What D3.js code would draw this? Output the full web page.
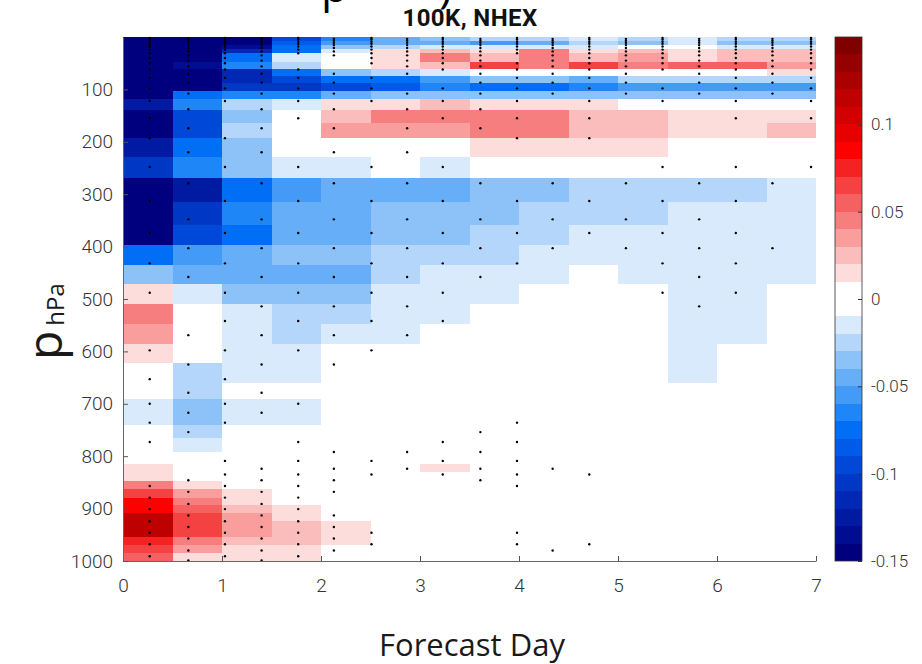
<!DOCTYPE html>
<html>
<head>
<meta charset="utf-8">
<script src="https://cdn.jsdelivr.net/npm/d3@7"></script>
<style>
  body { margin: 0; background: #fff; }
  svg { display: block; }
</style>
</head>
<body>
<svg id="chart" width="922" height="664"></svg>
<script>
// Forecast-day bin edges (14 half-day columns)
const dayEdges = [0, 0.5, 1, 1.5, 2, 2.5, 3, 3.5, 4, 4.5, 5, 5.5, 6, 6.5, 7];

// Pressure bin edges in hPa (43 layers, top to bottom)
const pressureEdges = [0, 7, 15, 22, 31, 47, 62, 74, 87, 103, 118, 139, 165, 193, 229, 269, 315, 359,
  397, 435, 472, 509, 547, 585, 623, 661, 690, 716, 741, 766, 792, 815, 831, 847, 863, 879, 894,
  909, 924, 939, 954, 969, 984, 1000];

// Anomaly per layer (rows) and day bin (columns)
const anomaly = [
  [-.145, -.145, -.145, -.095, -.065, -.045, -.035, -.025, -.025, -.015, -.025, -.015, -.025, -.025],
  [-.145, -.145, -.145, -.085, -.055, -.045, -.045, -.055, -.045, -.025, -.035, -.015, -.035, -.035],
  [-.145, -.145, -.135, -.075, -.035, -.025, -.015, -.015, -.015, -.015, 0, 0, -.015, -.015],
  [-.145, -.145, -.115, -.075, -.015, .015, .025, .015, .045, .015, .025, .015, .025, .025],
  [-.145, -.145, -.075, -.015, 0, .015, .045, .025, .045, .025, .035, .015, .025, .025],
  [-.145, -.135, -.065, -.025, 0, .015, .025, .065, .045, .065, .045, .055, .055, .035],
  [-.145, -.145, -.115, -.075, -.035, -.025, -.015, 0, 0, 0, 0, 0, 0, .015],
  [-.145, -.145, -.115, -.095, -.075, -.075, -.055, -.035, -.035, -.045, -.025, -.025, -.025, -.025],
  [-.145, -.145, -.105, -.105, -.095, -.085, -.065, -.075, -.075, -.065, -.055, -.055, -.055, -.055],
  [-.145, -.075, -.065, -.065, -.045, -.035, -.035, -.035, -.035, -.035, -.035, -.035, -.035, -.035],
  [-.125, -.065, -.025, -.015, .015, .015, .025, .015, .015, .015, 0, 0, 0, 0],
  [-.145, -.095, -.035, 0, .025, .045, .045, .045, .045, .025, .025, .015, .015, .015],
  [-.145, -.095, -.025, 0, .035, .035, .035, .045, .045, .025, .025, .015, .015, .025],
  [-.125, -.075, -.035, 0, 0, 0, 0, .015, .015, .015, .015, 0, 0, 0],
  [-.105, -.065, -.035, -.015, -.015, 0, -.015, 0, 0, 0, 0, 0, 0, 0],
  [-.145, -.125, -.075, -.055, -.045, -.045, -.045, -.035, -.035, -.025, -.025, -.025, -.025, -.015],
  [-.145, -.105, -.065, -.045, -.045, -.035, -.035, -.035, -.025, -.025, -.025, -.015, -.015, -.015],
  [-.145, -.095, -.075, -.045, -.045, -.035, -.035, -.025, -.025, -.015, -.015, -.015, -.015, -.015],
  [-.075, -.055, -.045, -.035, -.035, -.025, -.025, -.025, -.015, -.015, -.015, -.015, -.015, -.015],
  [-.035, -.045, -.045, -.045, -.045, -.025, -.015, -.015, -.015, 0, -.015, -.015, -.015, -.015],
  [.015, -.015, -.035, -.035, -.035, -.015, -.015, -.015, 0, 0, 0, -.015, -.015, 0],
  [.045, 0, -.015, -.025, -.025, -.015, -.015, 0, 0, 0, 0, -.015, -.015, 0],
  [.035, 0, -.015, -.025, -.015, -.015, 0, 0, 0, 0, 0, -.015, -.015, 0],
  [.015, 0, -.015, -.015, 0, 0, 0, 0, 0, 0, 0, -.015, 0, 0],
  [0, -.025, -.015, -.015, 0, 0, 0, 0, 0, 0, 0, -.015, 0, 0],
  [0, -.025, 0, 0, 0, 0, 0, 0, 0, 0, 0, 0, 0, 0],
  [-.015, -.035, -.015, -.015, 0, 0, 0, 0, 0, 0, 0, 0, 0, 0],
  [-.015, -.035, -.015, -.015, 0, 0, 0, 0, 0, 0, 0, 0, 0, 0],
  [0, -.025, 0, 0, 0, 0, 0, 0, 0, 0, 0, 0, 0, 0],
  [0, -.015, 0, 0, 0, 0, 0, 0, 0, 0, 0, 0, 0, 0],
  [0, 0, 0, 0, 0, 0, 0, 0, 0, 0, 0, 0, 0, 0],
  [.015, 0, 0, 0, 0, 0, .015, 0, 0, 0, 0, 0, 0, 0],
  [.015, 0, 0, 0, 0, 0, 0, 0, 0, 0, 0, 0, 0, 0],
  [.045, .015, 0, 0, 0, 0, 0, 0, 0, 0, 0, 0, 0, 0],
  [.065, .035, .015, 0, 0, 0, 0, 0, 0, 0, 0, 0, 0, 0],
  [.085, .045, .015, 0, 0, 0, 0, 0, 0, 0, 0, 0, 0, 0],
  [.085, .055, .025, .015, 0, 0, 0, 0, 0, 0, 0, 0, 0, 0],
  [.115, .065, .035, .015, 0, 0, 0, 0, 0, 0, 0, 0, 0, 0],
  [.115, .065, .035, .025, .015, 0, 0, 0, 0, 0, 0, 0, 0, 0],
  [.115, .065, .035, .025, .015, 0, 0, 0, 0, 0, 0, 0, 0, 0],
  [.075, .045, .025, .025, .015, 0, 0, 0, 0, 0, 0, 0, 0, 0],
  [.065, .035, .015, .015, 0, 0, 0, 0, 0, 0, 0, 0, 0, 0],
  [.055, .015, .015, .015, 0, 0, 0, 0, 0, 0, 0, 0, 0, 0]
];

// Significance markers: forecast times and the levels (hPa) marked at each
const dotDays = [0.27, 0.66, 1.03, 1.40, 1.77, 2.13, 2.51, 2.87, 3.23, 3.61, 3.98, 4.34, 4.71, 5.08, 5.45, 5.82, 6.19, 6.56, 6.95];
const dotLevels = [
  [2,5,9,13,18,24,31,40,50,62,78,98,122,155,193,248,313,374,432,488,598,653,700,736,773,857,879,901,924,946,968,991],
  [3.5,7,11,15.5,21,27.5,35,45,56,70,87,108,138,174,220,279,348,403,458,569,625,679,717,754,846,868,891,913,935,957,980,999],
  [2,5,9,13,18,24,31,40,50,62,78,98,122,193,248,313,374,432,488,542,598,653,700,736,809,835,857,879,901,924,946,968,991],
  [3.5,7,11,15.5,21,27.5,35,45,56,70,87,108,138,174,220,279,348,403,458,514,569,625,679,717,824,846,868,891,913,935,957,980,999],
  [2,5,9,13,18,24,31,62,78,98,122,155,248,313,374,432,488,542,598,700,773,809,835,857,879,901,924,946,968,991],
  [3.5,7,11,15.5,21,27.5,35,70,87,108,138,174,220,279,348,403,458,514,569,625,792,824,846,868,913,935,957,980],
  [2,5,9,13,18,24,31,40,50,78,98,122,248,313,374,432,488,542,598,809,835,946,968],
  [3.5,7,11,15.5,21,27.5,35,45,56,70,108,138,174,220,279,348,403,458,514,569,792,824],
  [2,5,9,13,18,24,31,40,50,62,98,122,155,248,313,374,432,488,542,773,809,835],
  [3.5,7,11,15.5,21,27.5,35,45,56,70,87,108,138,174,279,348,403,458,754,792,824,846],
  [2,5,9,13,18,24,31,50,62,78,98,122,155,193,313,374,432,736,773,809,835,857,946,968],
  [3.5,7,11,15.5,21,27.5,35,45,56,70,87,108,279,348,403,824,980],
  [2,5,9,13,18,24,31,40,50,62,78,98,122,155,193,313,374,835,968],
  [3.5,7,11,15.5,21,27.5,35,45,56,70,87,108,279,348,403],
  [2,5,9,13,18,24,31,40,50,62,98,122,248,313,374,432,488],
  [3.5,7,11,15.5,21,27.5,35,45,56,70,87,108,279,348,403,458,514],
  [2,5,9,13,18,24,31,40,50,62,78,98,122,155,248,313,374,432,488],
  [3.5,7,11,15.5,21,27.5,35,45,56,70,87,108,279,403],
  [2,5,9,13,18,24,31,40,50,62,78,98,122,155,248]
];

const xTicks = [0, 1, 2, 3, 4, 5, 6, 7];
const yTicks = [100, 200, 300, 400, 500, 600, 700, 800, 900, 1000];
const colorTicks = [-0.15, -0.1, -0.05, 0, 0.05, 0.1];

// 30-step diverging palette, lowest band first
const bandColors = [
  "#00007f", "#000d90", "#001aa2", "#0028b4", "#0038c6", "#0049d8", "#005be8", "#006ff5",
  "#1f86f7", "#439af7", "#67aef8", "#8dc2f9", "#b3d6fa", "#d9eafc", "#ffffff",
  "#ffffff", "#fddcdc", "#fbbcbc", "#f99d9d", "#f77e7e", "#f56060", "#f44141", "#f42222",
  "#ff0000", "#e60000", "#d20000", "#be0000", "#aa0000", "#950000", "#800000"
];

const svg = d3.select("#chart");
const plot = { left: 123, right: 816, top: 37, bottom: 561 };

const x = d3.scaleLinear().domain([0, 7]).range([plot.left, plot.right]);
const y = d3.scaleLinear().domain([0, 1000]).range([plot.top, plot.bottom]);
const color = d3.scaleQuantize().domain([-0.15, 0.15]).range(bandColors);

// Heat-map cells
const cells = [];
anomaly.forEach((row, i) => row.forEach((v, j) => cells.push({ i, j, v })));
svg.append("g")
  .attr("shape-rendering", "crispEdges")
  .selectAll("rect")
  .data(cells)
  .join("rect")
  .attr("x", d => x(dayEdges[d.j]))
  .attr("y", d => y(pressureEdges[d.i]))
  .attr("width", d => x(dayEdges[d.j + 1]) - x(dayEdges[d.j]))
  .attr("height", d => y(pressureEdges[d.i + 1]) - y(pressureEdges[d.i]))
  .attr("fill", d => color(d.v));

// Significance dots
const dots = [];
dotDays.forEach((day, k) => dotLevels[k].forEach(p => dots.push({ day, p })));
svg.append("g")
  .selectAll("circle")
  .data(dots)
  .join("circle")
  .attr("cx", d => x(d.day))
  .attr("cy", d => y(d.p))
  .attr("r", 1.2)
  .attr("fill", "#000");

// Axes
const tickColor = "#333";
const xAxis = svg.append("g")
  .attr("transform", `translate(0,${plot.bottom})`)
  .call(d3.axisBottom(x).tickValues(xTicks).tickSize(-5).tickPadding(18).tickSizeOuter(0).tickFormat(d3.format("d")));
const yAxis = svg.append("g")
  .attr("transform", `translate(${plot.left},0)`)
  .call(d3.axisLeft(y).tickValues(yTicks).tickSize(-5).tickPadding(10).tickSizeOuter(0).tickFormat(d3.format("d")));

[xAxis, yAxis].forEach(g => {
  g.selectAll("text").attr("font-family", "Roboto, sans-serif").attr("font-weight", 300)
    .attr("font-size", 19).attr("fill", tickColor);
  g.selectAll("line").attr("stroke", "#555").attr("stroke-width", 1);
  g.select(".domain").attr("stroke", "#666").attr("stroke-width", 1);
});

// Axis titles
svg.append("text")
  .attr("x", 472).attr("y", 656)
  .attr("text-anchor", "middle")
  .attr("font-family", "'Open Sans', sans-serif")
  .attr("font-size", 31)
  .attr("fill", "#1a1a1a")
  .text("Forecast Day");

const yTitle = svg.append("text")
  .attr("transform", "translate(62,360) rotate(-90)")
  .attr("font-family", "'Open Sans', sans-serif")
  .attr("fill", "#1a1a1a");
yTitle.append("tspan").attr("font-size", 48).text("p");
yTitle.append("tspan").attr("font-size", 24).attr("dx", 5).attr("dy", 2).text("hPa");

// Main heading, clipped by the top edge of the page
const heading = svg.append("text")
  .attr("y", 2)
  .attr("font-family", "'Open Sans', sans-serif")
  .attr("font-size", 44)
  .attr("fill", "#000");
heading.append("tspan").attr("x", 321).text("p");
heading.append("tspan").attr("x", 439).text(")");

// Chart title
svg.append("text")
  .attr("x", 470).attr("y", 26)
  .attr("text-anchor", "middle")
  .attr("font-family", "Roboto, sans-serif")
  .attr("font-weight", "bold")
  .attr("font-size", 24)
  .attr("letter-spacing", 0.4)
  .attr("fill", "#111")
  .text("100K, NHEX");

// Colour bar
const cbar = { left: 835, width: 27 };
const cy = d3.scaleLinear().domain([-0.15, 0.15]).range([plot.bottom, plot.top]);
const bandStep = 0.3 / bandColors.length;
svg.append("g")
  .attr("shape-rendering", "crispEdges")
  .selectAll("rect")
  .data(bandColors)
  .join("rect")
  .attr("x", cbar.left)
  .attr("width", cbar.width)
  .attr("y", (c, i) => cy(-0.15 + (i + 1) * bandStep))
  .attr("height", (c, i) => cy(-0.15 + i * bandStep) - cy(-0.15 + (i + 1) * bandStep))
  .attr("fill", c => c);

svg.append("rect")
  .attr("x", cbar.left).attr("y", plot.top)
  .attr("width", cbar.width).attr("height", plot.bottom - plot.top)
  .attr("fill", "none").attr("stroke", "#333").attr("stroke-width", 0.8);

const cAxis = svg.append("g")
  .attr("transform", `translate(${cbar.left + cbar.width},0)`)
  .call(d3.axisRight(cy).tickValues(colorTicks).tickSize(-4).tickPadding(9).tickSizeOuter(0).tickFormat(d => String(d)));
cAxis.select(".domain").remove();
cAxis.selectAll("line").attr("stroke", "#333");
cAxis.selectAll("text").attr("font-family", "Roboto, sans-serif").attr("font-weight", 300)
  .attr("font-size", 17).attr("fill", tickColor);
</script>
</body>
</html>
